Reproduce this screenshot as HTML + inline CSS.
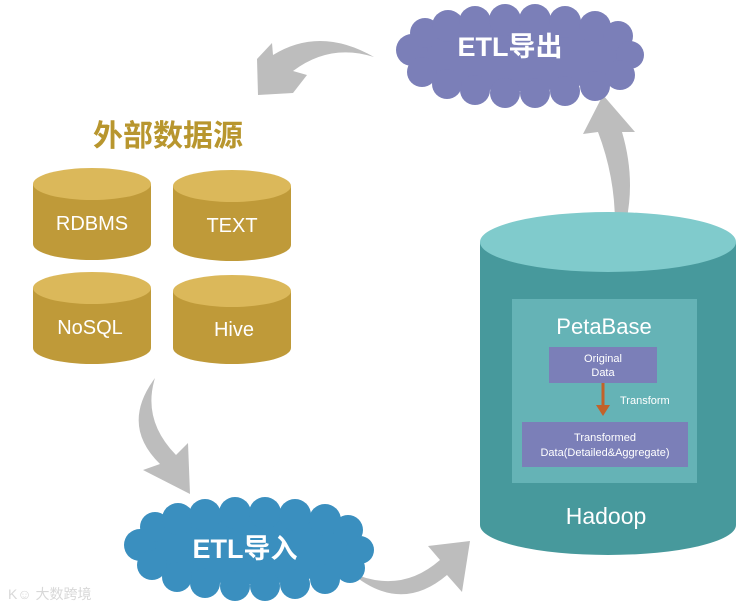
<!DOCTYPE html>
<html><head><meta charset="utf-8"><style>
html,body{margin:0;padding:0;background:#fff}
svg{display:block}
text{font-family:"Liberation Sans","Noto Sans CJK SC",sans-serif}
</style></head><body>
<svg width="745" height="610" viewBox="0 0 745 610" xmlns="http://www.w3.org/2000/svg">
<g fill="#bdbdbd">
<path d="M272,43 L273,55 Q320,26 374,57 Q330,43 293,71 L307,75 L293,93 L258,95 L257,59 Z"/>
<path d="M612,262 Q642,200 622,132 L635,132 L603,95 L583,134 L598,132 Q622,195 612,262 Z"/>
<path d="M155,378 Q120,425 160,464 L143,470 L190,494 L188,443 L176,455 Q142,420 155,378 Z"/>
<path d="M350,572 Q400,615 447,575 L462,592 L470,541 L428,546 L440,560 Q400,595 350,572 Z"/>
</g>
<g fill="#7b7fb8">
<ellipse cx="520" cy="57" rx="112" ry="34"/>
<circle cx="412" cy="50" r="16"/><circle cx="425" cy="33" r="15"/><circle cx="448" cy="26" r="16"/>
<circle cx="475" cy="22" r="16"/><circle cx="505" cy="20" r="16"/><circle cx="535" cy="20" r="16"/>
<circle cx="565" cy="22" r="16"/><circle cx="595" cy="27" r="16"/><circle cx="618" cy="36" r="15"/>
<circle cx="630" cy="55" r="14"/><circle cx="620" cy="75" r="15"/><circle cx="595" cy="86" r="15"/>
<circle cx="565" cy="91" r="15"/><circle cx="535" cy="93" r="15"/><circle cx="505" cy="93" r="15"/>
<circle cx="475" cy="90" r="15"/><circle cx="447" cy="84" r="15"/><circle cx="422" cy="72" r="15"/>
</g>
<text x="510" y="56" font-size="27" font-weight="bold" fill="#fff" text-anchor="middle">ETL导出</text>
<g fill="#3a8fbf">
<ellipse cx="250" cy="550" rx="112" ry="34"/>
<circle cx="140" cy="545" r="16"/><circle cx="155" cy="527" r="15"/><circle cx="178" cy="519" r="16"/>
<circle cx="205" cy="515" r="16"/><circle cx="235" cy="513" r="16"/><circle cx="265" cy="513" r="16"/>
<circle cx="295" cy="515" r="16"/><circle cx="325" cy="520" r="16"/><circle cx="348" cy="530" r="15"/>
<circle cx="360" cy="550" r="14"/><circle cx="350" cy="568" r="15"/><circle cx="325" cy="579" r="15"/>
<circle cx="295" cy="584" r="15"/><circle cx="265" cy="586" r="15"/><circle cx="235" cy="586" r="15"/>
<circle cx="205" cy="583" r="15"/><circle cx="177" cy="577" r="15"/><circle cx="152" cy="565" r="15"/>
</g>
<text x="245" y="558" font-size="27" font-weight="bold" fill="#fff" text-anchor="middle">ETL导入</text>
<text x="168" y="146" font-size="30" font-weight="bold" fill="#b8962e" text-anchor="middle">外部数据源</text>
<g>
<path d="M33,184 L33,244 A59,16 0 0 0 151,244 L151,184 Z" fill="#bf9a39"/>
<ellipse cx="92" cy="184" rx="59" ry="16" fill="#dbb85a"/>
<path d="M173,186 L173,245 A59,16 0 0 0 291,245 L291,186 Z" fill="#bf9a39"/>
<ellipse cx="232" cy="186" rx="59" ry="16" fill="#dbb85a"/>
<path d="M33,288 L33,348 A59,16 0 0 0 151,348 L151,288 Z" fill="#bf9a39"/>
<ellipse cx="92" cy="288" rx="59" ry="16" fill="#dbb85a"/>
<path d="M173,291 L173,348 A59,16 0 0 0 291,348 L291,291 Z" fill="#bf9a39"/>
<ellipse cx="232" cy="291" rx="59" ry="16" fill="#dbb85a"/>
</g>
<g font-size="20" fill="#fff" text-anchor="middle">
<text x="92" y="230">RDBMS</text>
<text x="232" y="232">TEXT</text>
<text x="90" y="334">NoSQL</text>
<text x="234" y="336">Hive</text>
</g>
<path d="M480,242 L480,525 A128,30 0 0 0 736,525 L736,242 Z" fill="#47999c"/>
<ellipse cx="608" cy="242" rx="128" ry="30" fill="#80cbcc"/>
<rect x="512" y="299" width="185" height="184" fill="#65b3b6"/>
<text x="604" y="334" font-size="22" fill="#fff" text-anchor="middle">PetaBase</text>
<rect x="549" y="347" width="108" height="36" fill="#7b7fb8"/>
<text x="603" y="362" font-size="11" fill="#fff" text-anchor="middle">Original</text>
<text x="603" y="376" font-size="11" fill="#fff" text-anchor="middle">Data</text>
<line x1="603" y1="383" x2="603" y2="408" stroke="#c2622a" stroke-width="3"/>
<path d="M596,405 L610,405 L603,416 Z" fill="#c2622a"/>
<text x="620" y="404" font-size="11" fill="#fff">Transform</text>
<rect x="522" y="422" width="166" height="45" fill="#7b7fb8"/>
<text x="605" y="441" font-size="11" fill="#fff" text-anchor="middle">Transformed</text>
<text x="605" y="456" font-size="11" fill="#fff" text-anchor="middle">Data(Detailed&amp;Aggregate)</text>
<text x="606" y="524" font-size="23" fill="#fff" text-anchor="middle">Hadoop</text>
<text x="8" y="599" font-size="14" fill="#d8d8d8">K☺ 大数跨境</text>
</svg>
</body></html>
